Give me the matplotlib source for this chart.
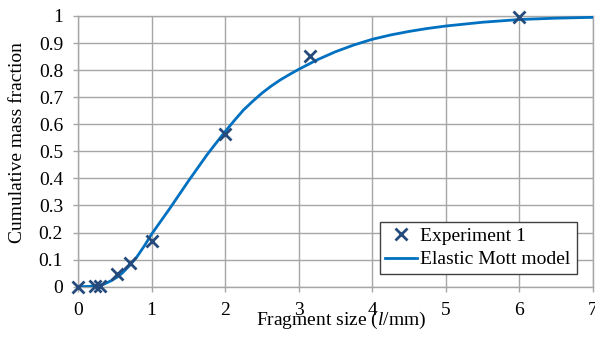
import matplotlib
matplotlib.use("Agg")
import matplotlib.pyplot as plt
from matplotlib.ticker import FuncFormatter

# experiment points
exp_size = [0.0, 0.23, 0.30, 0.53, 0.71, 1.0, 2.0, 3.15, 6.0]
exp_frac = [0.0, 0.003, 0.003, 0.046, 0.086, 0.17, 0.563, 0.854, 0.997]

# Elastic Mott model curve
model_size = [0.0, 0.15, 0.25, 0.35, 0.45, 0.53, 0.6, 0.7, 0.8, 0.9, 1.0, 1.125, 1.25,
              1.375, 1.5, 1.625, 1.75, 1.875, 2.0, 2.125, 2.25, 2.375, 2.5, 2.625,
              2.75, 2.875, 3.0, 3.25, 3.5, 3.75, 4.0, 4.25, 4.5, 4.75, 5.0, 5.5,
              6.0, 6.5, 7.0]
model_frac = [0.0, 0.001, 0.004, 0.009, 0.022, 0.035, 0.05, 0.078, 0.11, 0.15, 0.194,
              0.242, 0.29, 0.34, 0.39, 0.438, 0.486, 0.53, 0.573, 0.614, 0.653,
              0.685, 0.715, 0.741, 0.764, 0.784, 0.803, 0.838, 0.868, 0.893, 0.914,
              0.93, 0.943, 0.954, 0.963, 0.977, 0.987, 0.992, 0.995]

plt.rcParams["font.family"] = ["Liberation Serif", "DejaVu Serif"]
plt.rcParams["mathtext.fontset"] = "custom"
plt.rcParams["mathtext.rm"] = "Liberation Serif"
plt.rcParams["mathtext.it"] = "Liberation Serif:italic"

fig = plt.figure(figsize=(5.95, 3.38), dpi=100)
ax = fig.add_axes([78 / 595, 1 - 286.7 / 338, 515 / 595, 270.7 / 338])

ax.plot(model_size, model_frac, color="#0070C0", linewidth=2, label="Elastic Mott model", zorder=3)
ax.plot(exp_size, exp_frac, linestyle="none", marker="x", color="#254A7C",
        markersize=8, markeredgewidth=2, label="Experiment 1", zorder=4, clip_on=False)

grid_col = "#A6A6A6"
ax.set_xlim(0, 7)
ax.set_ylim(0, 1)
ax.set_xticks(range(0, 8))
ax.set_yticks([i / 10 for i in range(11)])
ax.yaxis.set_major_formatter(FuncFormatter(lambda v, p: "%g" % round(v, 1)))
ax.tick_params(length=3.8, width=1, color=grid_col, direction="out", labelsize=14)
ax.tick_params(axis="x", pad=7)
ax.tick_params(axis="y", pad=7)
ax.grid(color=grid_col, linewidth=1)
ax.set_axisbelow(True)
for s in ax.spines.values():
    s.set_color(grid_col)
    s.set_linewidth(1)

ax.set_xlabel(r"Fragment size ($\mathit{l}$/mm)", fontsize=14)
ax.set_ylabel("Cumulative mass fraction", fontsize=14)
ax.xaxis.set_label_coords(0.51, -0.085)
ax.yaxis.set_label_coords(-0.101, 0.533)

handles, labels = ax.get_legend_handles_labels()
leg = ax.legend(handles[::-1], labels[::-1], loc="lower right", bbox_to_anchor=(0.968, 0.046),
                fontsize=14, frameon=True, fancybox=False, framealpha=1, edgecolor="#404040",
                handlelength=1.6, handletextpad=0.2, labelspacing=0.3, borderpad=0.3,
                borderaxespad=0)
leg.get_frame().set_linewidth(1)

fig.savefig("out.png", dpi=100)
